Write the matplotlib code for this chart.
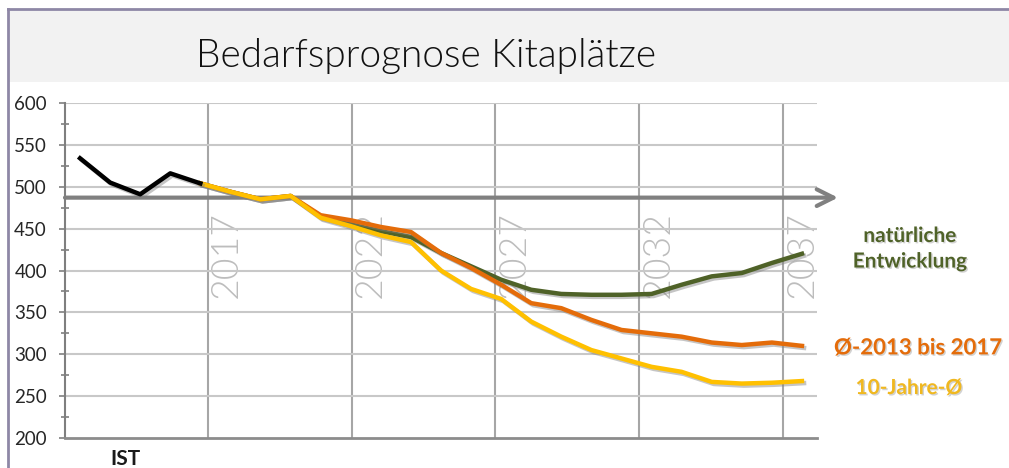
import matplotlib
matplotlib.use("Agg")
import matplotlib.pyplot as plt
import matplotlib.patheffects as pe
from matplotlib.patches import Rectangle
from matplotlib.lines import Line2D

# Ist-Werte 2013 bis 2017
ist_years = [2013, 2014, 2015, 2016, 2017]
ist_values = [534, 505, 491, 516, 504]

# Prognose 2017 bis 2037, drei Varianten
prog_years = list(range(2017, 2038))
natural = [504, 494, 485, 489, 464, 455, 447, 440, 421, 405, 389,
           377, 372, 371, 371, 372, 383, 393, 397, 409, 420]
avg_13_17 = [504, 494, 485, 489, 466, 460, 452, 446, 421, 403, 383,
             361, 355, 341, 329, 325, 321, 314, 311, 314, 310]
avg_10y = [504, 494, 485, 489, 463, 453, 442, 434, 400, 378, 366,
           339, 321, 305, 295, 285, 279, 267, 265, 266, 268]

grid_years = [2017, 2022, 2027, 2032, 2037]
arrow_level = 487

green = "#4f6228"
orange = "#e46c0a"
yellow = "#ffc000"

fig = plt.figure(figsize=(10.09, 4.68), dpi=100)

# Rahmen und Titelband
fig.patches.append(Rectangle((9 / 1009, 1 - 82 / 468), 1, 72 / 468, transform=fig.transFigure,
                             facecolor="#f2f2f2", edgecolor="none", zorder=0))
fig.add_artist(Line2D([8 / 1009, 1], [1 - 9 / 468] * 2, transform=fig.transFigure,
                      color="#8e87a6", lw=2))
fig.add_artist(Line2D([8 / 1009] * 2, [0, 1 - 9 / 468], transform=fig.transFigure,
                      color="#8e87a6", lw=2))
fig.text(0.422, 1 - 56 / 468, "Bedarfsprognose Kitaplätze", ha="center", va="center",
         fontsize=28, family="Lato", fontweight=300, color="#111111")

ax = fig.add_axes([65 / 1009, 30 / 468, 752 / 1009, 335 / 468])

# zweite x-Achse nur fuer die Jahresraster und -beschriftung
ax2 = ax.twiny()
ax2.set_zorder(ax.get_zorder() - 1)
ax.patch.set_visible(False)
ax2.set_xlim(2012.03, 2038.18)
ax2.set_xticks(grid_years)
ax2.tick_params(top=False, labeltop=False)
for y in grid_years:
    ax2.axvline(y, color="#a6a6a6", lw=1.5)
    ax2.text(y + 0.08, 367, str(y), rotation=90, ha="left", va="bottom",
             fontsize=27, family="Lato", fontweight=300, color="#bdbdbd")
for s in ax2.spines.values():
    s.set_visible(False)

ax.set_xlim(2012.5, 2037.5)
ax.set_ylim(200, 600)
ax.set_yticks(range(200, 601, 50))
ax.set_yticks(range(225, 600, 50), minor=True)
ax.set_xticks([])
for y in range(250, 601, 50):
    ax.axhline(y, color="#c8c8c8", lw=1.5, zorder=0)

for s in ["top", "right"]:
    ax.spines[s].set_visible(False)
ax.spines["left"].set_color("#7f7f7f")
ax.spines["left"].set_linewidth(1.5)
ax.spines["bottom"].set_color("#8c8c8c")
ax.spines["bottom"].set_linewidth(2)
ax.tick_params(axis="y", which="major", direction="out", length=4, width=1.2,
               color="#7f7f7f", pad=9, labelsize=13.5, labelcolor="#262626")
ax.tick_params(axis="y", which="minor", direction="inout", length=6, width=1.2,
               color="#7f7f7f")
for lab in ax.get_yticklabels():
    lab.set_family("Lato")

shadow = [pe.SimpleLineShadow(offset=(1.5, -1.5), shadow_color="#7f7f7f", alpha=0.45),
          pe.Normal()]
ax.plot(prog_years, natural, color=green, lw=3.2, path_effects=shadow, zorder=3)
ax.plot(prog_years, avg_13_17, color=orange, lw=3.2, path_effects=shadow, zorder=4)
ax.plot(prog_years, avg_10y, color=yellow, lw=3.2, path_effects=shadow, zorder=5)
ax.plot(ist_years, ist_values, color="black", lw=3.2, path_effects=shadow, zorder=6)

ax.annotate("", xy=(1.028, arrow_level), xytext=(0, arrow_level),
            xycoords=("axes fraction", "data"), textcoords=("axes fraction", "data"),
            arrowprops=dict(arrowstyle="->,head_length=1.2,head_width=0.6",
                            color="#808080", lw=3, shrinkA=0, shrinkB=0),
            annotation_clip=False, zorder=2)

ax.text(2014.5, 187, "IST", ha="center", va="top", fontsize=15, family="Lato",
        fontweight="bold", color="#1a1a1a", clip_on=False)

text_shadow = [pe.withSimplePatchShadow(offset=(1, -1), shadow_rgbFace="#808080", alpha=0.35)]
ax.annotate("natürliche\nEntwicklung", xy=(prog_years[-1], natural[-1]),
            xytext=(108, 5), textcoords="offset pixels", ha="center", va="center",
            fontsize=15, family="Lato", fontweight="bold", color=green,
            linespacing=1.35, path_effects=text_shadow, annotation_clip=False)
ax.annotate("Ø-2013 bis 2017", xy=(prog_years[-1], avg_13_17[-1]),
            xytext=(116, -2), textcoords="offset pixels", ha="center", va="center",
            fontsize=16, family="Lato", fontweight="bold", color=orange,
            path_effects=text_shadow, annotation_clip=False)
ax.annotate("10-Jahre-Ø", xy=(prog_years[-1], avg_10y[-1]),
            xytext=(107, -7), textcoords="offset pixels", ha="center", va="center",
            fontsize=15, family="Lato", fontweight="bold", color="#f0b820",
            path_effects=text_shadow, annotation_clip=False)

fig.savefig("out.png", dpi=100)
